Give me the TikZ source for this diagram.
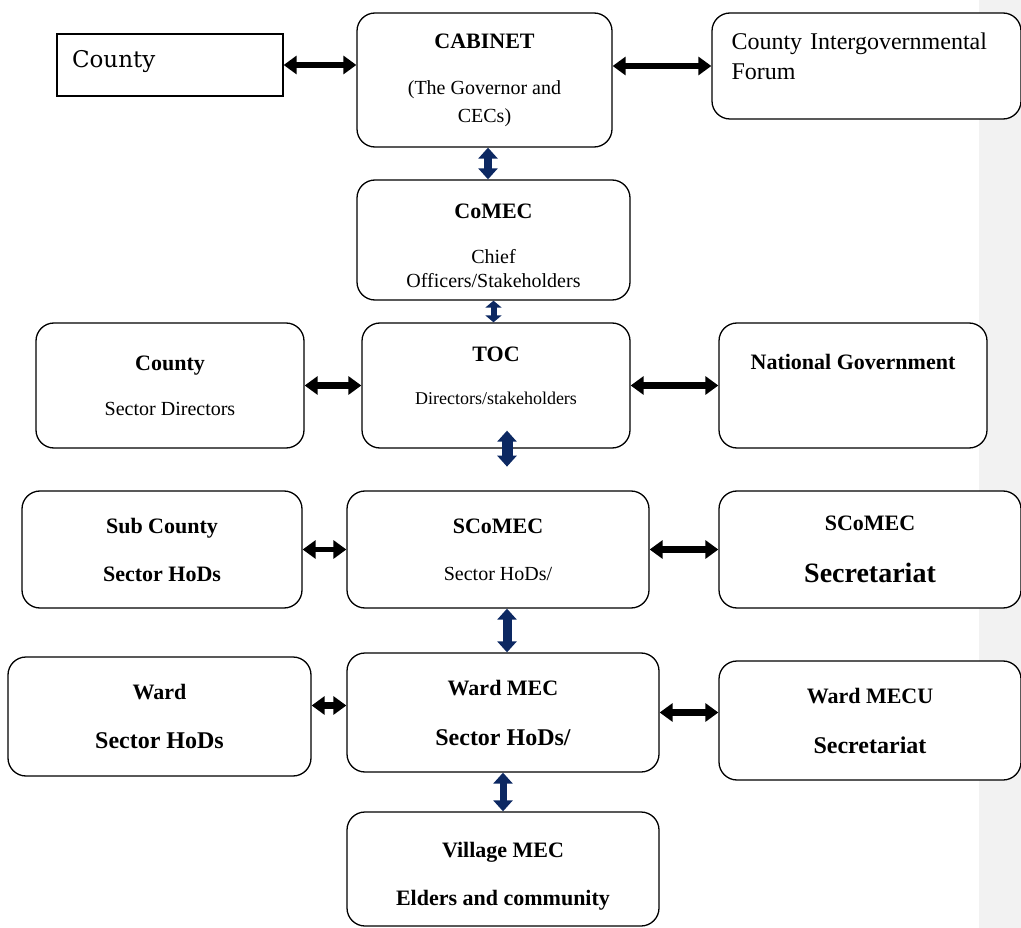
\documentclass[tikz,border=0pt]{standalone}
\usepackage{fontspec}
\setmainfont{Liberation Serif}
\newfontfamily\countyfont{DejaVu Serif}
\usetikzlibrary{arrows.meta}
\definecolor{navyarrow}{RGB}{12,40,98}
\definecolor{margingray}{RGB}{242,242,242}
\tikzset{
    box/.style={draw, fill=white, rounded corners=18pt, line width=1.3pt,
        align=center, inner sep=0pt},
    plainbox/.style={draw, fill=white, line width=1.3pt, align=left,
        inner xsep=15pt, inner ysep=0pt},
    link/.style={line width=6.5pt,
        {Triangle[width=18pt,length=13pt]}-{Triangle[width=18pt,length=13pt]}},
    updown/.style={line width=#1, navyarrow,
        {Triangle[width=19pt,length=11pt]}-{Triangle[width=19pt,length=11pt]}},
    updown/.default=8pt
}
\newcommand{\hd}[1]{{\fontsize{22}{26}\selectfont\bfseries #1}}
\newcommand{\hdl}[1]{{\fontsize{24}{28}\selectfont\bfseries #1}}

\begin{document}
\begin{tikzpicture}[x=1pt, y=-1pt, font=\fontsize{20}{24}\selectfont]

    \useasboundingbox (0,0) rectangle (1021,928);
    \fill[margingray] (979,0) rectangle (1021,928);

    % top level
    \node[plainbox, text width=196pt, minimum height=62pt, text depth=13pt,
        font=\countyfont\fontsize{23}{28}\selectfont] (county) at (170,65) {County};
    \node[box, minimum width=255pt, minimum height=134pt] (cabinet) at (484.5,80)
        {\hd{CABINET}\\[22pt](The Governor and\\[4pt]CECs)};
    \node[box, minimum width=309pt, minimum height=106pt, text width=270pt,
        align=left, font=\fontsize{24}{30}\selectfont] (forum) at (866.5,66)
        {County Intergovernmental\\Forum\\[-10pt]\mbox{}};

    \node[box, minimum width=273pt, minimum height=120pt] (comec) at (493.5,240)
        {\mbox{}\\[3pt]\hd{CoMEC}\\[21pt]Chief\\Officers/Stakeholders};

    % county level
    \node[box, minimum width=268pt, minimum height=125pt] (countysd) at (170,385.5)
        {\hd{County}\\[21pt]Sector Directors};
    \node[box, minimum width=268pt, minimum height=125pt] (toc) at (496,385.5)
        {\hd{TOC}\\[19pt]{\fontsize{18}{22}\selectfont Directors/stakeholders}\\[-4pt]\mbox{}};
    \node[box, minimum width=268pt, minimum height=125pt, text depth=48pt] (natgov)
        at (853,385.5) {\hd{National Government}};

    % sub county level
    \node[box, minimum width=280pt, minimum height=117pt] (subcounty) at (162,549.5)
        {\hd{Sub County}\\[24pt]\hd{Sector HoDs}};
    \node[box, minimum width=302pt, minimum height=117pt] (scomec) at (498,549.5)
        {\hd{SCoMEC}\\[23pt]Sector HoDs/};
    \node[box, minimum width=302pt, minimum height=117pt] (scomecsec) at (870,549.5)
        {\hd{SCoMEC}\\[28pt]{\fontsize{28}{32}\selectfont\bfseries Secretariat}};

    % ward level
    \node[box, minimum width=303pt, minimum height=119pt] (ward) at (159.5,716.5)
        {\hd{Ward}\\[25pt]\hdl{Sector HoDs}};
    \node[box, minimum width=312pt, minimum height=119pt] (wardmec) at (503,712.5)
        {\hd{Ward MEC}\\[26pt]\hdl{Sector HoDs/}};
    \node[box, minimum width=302pt, minimum height=119pt] (wardmecu) at (870,720.5)
        {\hd{Ward MECU}\\[26pt]\hdl{Secretariat}};

    \node[box, minimum width=312pt, minimum height=114pt] (village) at (503,869)
        {\mbox{}\\[5pt]\hd{Village MEC}\\[24pt]\hd{Elders and community}};

    % side links
    \draw[link] (county.east) -- (county.east -| cabinet.west);
    \draw[link] (cabinet.east |- forum.west) -- (forum.west);
    \draw[link] (countysd.east) -- (toc.west);
    \draw[link] (toc.east) -- (natgov.west);
    \draw[link, line width=5pt] (subcounty.east) -- (scomec.west);
    \draw[link] (scomec.east) -- (scomecsec.west);
    \draw[link] ([yshift=11pt]ward.east) -- ([yshift=11pt]ward.east -| wardmec.west);
    \draw[link] (wardmec.east) -- (wardmec.east -| wardmecu.west);

    % down the chain
    \draw[updown] ([xshift=3.5pt]cabinet.south) -- ([xshift=3.5pt]cabinet.south |- comec.north);
    \draw[updown=6pt, {Triangle[width=16pt,length=7pt]}-{Triangle[width=16pt,length=7pt]}]
        (comec.south) -- (comec.south |- toc.north);
    \draw[updown=11pt] ([xshift=11pt,yshift=18pt]toc.south) -- ([xshift=11pt,yshift=-18pt]toc.south);
    \draw[updown=9pt] ([xshift=9pt]scomec.south) -- ([xshift=9pt]scomec.south |- wardmec.north);
    \draw[updown=7pt] (wardmec.south) -- (village.north);

\end{tikzpicture}
\end{document}
